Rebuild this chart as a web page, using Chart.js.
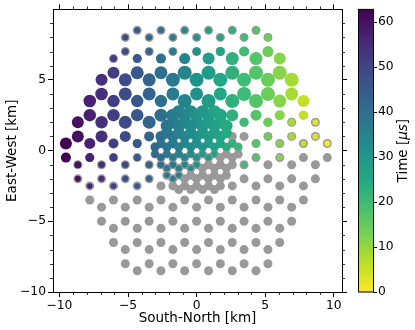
<!DOCTYPE html>
<html><head><meta charset="utf-8">
<script src="https://cdn.jsdelivr.net/npm/chart.js@4.4.1/dist/chart.umd.min.js"></script>
<style>html,body{margin:0;padding:0;background:#fff;}canvas{display:block;}</style>
</head><body>
<canvas id="c" width="415" height="330"></canvas>
<script>
// ---------------- data (km, µs, arbitrary amplitude units) ----------------
const xTicks = [-10, -5, 0, 5, 10];
const yTicks = [-10, -5, 0, 5];
const cbTicks = [0, 10, 20, 30, 40, 50, 60];
const xRange = [-10.47, 10.6];
const yRange = [-10, 9.98];

// all antennas, column by column (1 km array)
const outerColX = [-9.53,-8.66,-7.79,-6.93,-6.06,-5.20,-4.33,-3.46,-2.60,-1.73,-0.87,0.00,0.87,1.73,2.60,3.46,4.33,5.20,6.06,6.93,7.79,8.66,9.53];
const outerColY = [
  [0.5,-0.5],
  [2,1,-1,-2],
  [3.5,2.5,0.5,-0.5,-2.5,-3.5],
  [5,4,2,1,-1,-2,-4,-5],
  [6.5,5.5,3.5,2.5,0.5,-0.5,-2.5,-3.5,-5.5,-6.5],
  [8,7,5,4,2,1,-1,-2,-4,-5,-7,-8],
  [8.5,6.5,5.5,3.5,2.5,0.5,-0.5,-2.5,-3.5,-5.5,-6.5,-8.5],
  [8,7,5,4,2,1,-1,-2,-4,-5,-7,-8],
  [8.5,6.5,5.5,3.5,2.5,0.5,-0.5,-2.5,-3.5,-5.5,-6.5,-8.5],
  [8,7,5,4,2,1,-1,-2,-4,-5,-7,-8],
  [8.5,6.5,5.5,3.5,2.5,0.5,-0.5,-2.5,-3.5,-5.5,-6.5,-8.5],
  [8,7,5,4,2,1,-1,-2,-4,-5,-7,-8],
  [8.5,6.5,5.5,3.5,2.5,0.5,-0.5,-2.5,-3.5,-5.5,-6.5,-8.5],
  [8,7,5,4,2,1,-1,-2,-4,-5,-7,-8],
  [8.5,6.5,5.5,3.5,2.5,0.5,-0.5,-2.5,-3.5,-5.5,-6.5,-8.5],
  [8,7,5,4,2,1,-1,-2,-4,-5,-7,-8],
  [8.5,6.5,5.5,3.5,2.5,0.5,-0.5,-2.5,-3.5,-5.5,-6.5,-8.5],
  [8,7,5,4,2,1,-1,-2,-4,-5,-7,-8],
  [6.5,5.5,3.5,2.5,0.5,-0.5,-2.5,-3.5,-5.5,-6.5],
  [5,4,2,1,-1,-2,-4,-5],
  [3.5,2.5,0.5,-0.5,-2.5,-3.5],
  [2,1,-1,-2],
  [0.5,-0.5]
];
// dense infill antennas (0.5 km), column by column
const infillColX = [-3.03,-2.60,-2.17,-1.73,-1.30,-0.87,-0.43,0.00,0.43,0.87,1.30,1.73,2.17,2.60,3.03];
const infillColY = [
  [0.25,-0.25],
  [1,-1],
  [1.75,1.25,0.25,-0.25,-1.25,-1.75],
  [2.5,0.5,-0.5,-2.5],
  [2.75,1.75,1.25,0.25,-0.25,-1.25,-1.75,-2.75],
  [2,1,-1,-2],
  [2.75,1.75,1.25,0.25,-0.25,-1.25,-1.75,-2.75],
  [2.5,0.5,-0.5,-2.5],
  [2.75,1.75,1.25,0.25,-0.25,-1.25,-1.75,-2.75],
  [2,1,-1,-2],
  [2.75,1.75,1.25,0.25,-0.25,-1.25,-1.75,-2.75],
  [2.5,0.5,-0.5,-2.5],
  [1.75,1.25,0.25,-0.25,-1.25,-1.75],
  [1,-1],
  [0.25,-0.25]
];

// triggered antennas: column x, per-column arrival time, per-antenna y and amplitude
const trigColX = [-9.53,-8.66,-7.79,-6.93,-6.06,-5.20,-4.33,-3.46,-2.60,-1.73,-0.87,0.00,0.87,1.73,2.60,3.46,4.33,5.20,6.06,6.93,7.79,8.66,9.53,
                  -3.03,-2.60,-2.17,-1.73,-1.30,-0.87,-0.43,0.00,0.43,0.87,1.30,1.73,2.17,3.03];
const trigColTime = [62.8,60.0,57.1,54.3,51.4,48.5,45.7,42.8,40.0,37.1,34.3,31.4,28.5,25.7,22.8,20.0,17.1,14.3,11.4,8.5,5.7,2.8,0.0,
                     41.4,40.0,38.5,37.1,35.7,34.3,32.8,31.4,30.0,28.5,27.1,25.7,24.3,21.4];
const trigColY = [
  [0.5,-0.5],
  [2,1,-1,-2],
  [3.5,2.5,0.5,-0.5,-2.5],
  [5,4,2,1,-1,-2],
  [6.5,5.5,3.5,2.5,0.5,-0.5,-2.5],
  [8,7,5,4,2,1,-1,-2],
  [8.5,6.5,5.5,3.5,2.5,0.5,-0.5,-2.5],
  [8,7,5,4,2,1,-1,-2],
  [8.5,6.5,5.5,3.5,2.5,0.5,-0.5],
  [8,7,5,4,2,1,-1,-2],
  [8.5,6.5,5.5,3.5,2.5,0.5,-0.5],
  [8,7,5,4,2,1,-1],
  [8.5,6.5,5.5,3.5,2.5,0.5,-0.5],
  [8,7,5,4,2,1],
  [8.5,6.5,5.5,3.5,2.5,0.5],
  [8,7,5,4,2,-1],
  [8.5,6.5,5.5,3.5,2.5,0.5,-0.5],
  [8,7,5,4,2,1],
  [6.5,5.5,3.5,2.5,0.5,-0.5],
  [5,4,2,1],
  [3.5,2.5,0.5],
  [2,1],
  [0.5],
  [0.25,-0.25],
  [1,-1],
  [1.75,1.25,0.25,-0.25,-1.25,-1.75],
  [2.5,0.5,-0.5],
  [2.75,1.75,1.25,0.25,-0.25,-1.25,-1.75],
  [2,1,-1],
  [2.75,1.75,1.25,0.25,-0.25,-1.25],
  [2.5,0.5,-0.5],
  [2.75,1.75,1.25,0.25,-0.25],
  [2,1],
  [2.75,1.75,1.25,0.25,-0.25],
  [2.5,0.5],
  [1.75,1.25,0.25],
  [0.25]
];
const trigColAmp = [
  [84,70],
  [84,84,49,42],
  [88,87,77,63,39],
  [84,88,87,84,46,42],
  [49,84,87,87,70,56,39],
  [42,46,91,91,91,77,46,42],
  [42,63,91,87,87,63,49,39],
  [42,49,91,91,91,70,46,42],
  [42,70,91,87,91,63,49],
  [42,49,98,91,88,77,45,39],
  [42,77,98,98,91,63,49],
  [45,56,98,91,88,77,42],
  [42,84,98,98,91,63,45],
  [45,63,98,91,88,77],
  [45,91,98,98,84,56],
  [46,70,98,98,63,42],
  [46,91,98,98,77,53,42],
  [49,77,98,98,63,49],
  [84,98,91,70,46,42],
  [98,91,49,46],
  [84,63,42],
  [42,42],
  [42],
  [63,53],
  [77,45],
  [87,81,63,53,42,39],
  [91,70,49],
  [91,87,81,63,53,42,39],
  [88,77,42],
  [91,87,81,63,49,39],
  [91,70,46],
  [91,87,81,60,46],
  [88,77],
  [91,87,81,60,42],
  [91,63],
  [87,77,56],
  [53]
];

// ---------------- helpers ----------------
const VIRIDIS = ['#440154','#482475','#414487','#355f8d','#2a788e','#21918c','#22a884','#44bf70','#7ad151','#bddf26','#fde725'];
function hex2rgb(h){return [parseInt(h.slice(1,3),16),parseInt(h.slice(3,5),16),parseInt(h.slice(5,7),16)];}
function viridis(f){
  f = Math.max(0, Math.min(1, f));
  const p = f * 10, i = Math.min(9, Math.floor(p)), u = p - i;
  const a = hex2rgb(VIRIDIS[i]), b = hex2rgb(VIRIDIS[i+1]);
  return 'rgb(' + a.map((v,k)=>Math.round(v + (b[k]-v)*u)).join(',') + ')';
}
const fmt = v => v < 0 ? '\u2212' + Math.abs(v) : String(v);
const ampToRadius = a => a / 14;

// build datasets
const allPts = [];
outerColX.forEach((x,c) => outerColY[c].forEach(y => allPts.push({x, y})));
infillColX.forEach((x,c) => infillColY[c].forEach(y => allPts.push({x, y})));

const trigPts = [], trigT = [], trigA = [];
trigColX.forEach((x,c) => trigColY[c].forEach((y,j) => {
  trigPts.push({x, y}); trigT.push(trigColTime[c]); trigA.push(trigColAmp[c][j]);
}));
const tMin = 0, tMax = Math.max(...trigT);
const tColor = t => viridis(1 - (t - tMin) / (tMax - tMin));

const FONT = 'DejaVu Sans';
const TICK_FS = 12.3, LAB_FS = 13.5;

const extras = {
  id: 'extras',
  afterDraw(chart) {
    const {ctx, chartArea: a, scales} = chart;
    const xs = scales.x, ys = scales.y;
    ctx.save();
    // minor ticks (every 1 km), outward on all sides
    ctx.strokeStyle = '#000'; ctx.lineWidth = 0.8;
    ctx.beginPath();
    for (let v = Math.ceil(xs.min); v <= xs.max; v++) {
      if (v % 5 === 0) continue;
      const px = Math.round(xs.getPixelForValue(v)) + 0.5;
      ctx.moveTo(px, a.bottom); ctx.lineTo(px, a.bottom + 3);
      ctx.moveTo(px, a.top); ctx.lineTo(px, a.top - 3);
    }
    for (let v = Math.ceil(ys.min); v <= ys.max; v++) {
      if (v % 5 === 0) continue;
      const py = Math.round(ys.getPixelForValue(v)) + 0.5;
      ctx.moveTo(a.left, py); ctx.lineTo(a.left - 3, py);
      ctx.moveTo(a.right, py); ctx.lineTo(a.right + 3, py);
    }
    ctx.stroke();

    // colorbar
    const x0 = a.right + 16.5, w = 15, x1 = x0 + w, y0 = a.top, y1 = a.bottom;
    const g = ctx.createLinearGradient(0, y1, 0, y0);
    for (let i = 0; i <= 20; i++) g.addColorStop(i/20, viridis(1 - i/20));
    ctx.fillStyle = g;
    ctx.fillRect(x0, y0, w, y1 - y0);
    ctx.lineWidth = 1; ctx.strokeStyle = '#000';
    ctx.strokeRect(x0, y0, w, y1 - y0);
    ctx.fillStyle = '#000';
    ctx.font = TICK_FS + 'px "' + FONT + '"';
    ctx.textAlign = 'left'; ctx.textBaseline = 'middle';
    ctx.beginPath();
    cbTicks.forEach(t => {
      const py = y1 - (t - tMin) / (tMax - tMin) * (y1 - y0);
      ctx.moveTo(x1, Math.round(py) + 0.5); ctx.lineTo(x1 + 3.5, Math.round(py) + 0.5);
      ctx.fillText(fmt(t), x1 + 4.5, py);
    });
    ctx.stroke();

    // colorbar label "Time [μs]"
    ctx.translate(406.5, (y0 + y1) / 2);
    ctx.rotate(-Math.PI / 2);
    ctx.textBaseline = 'alphabetic';
    const fN = LAB_FS + 'px "' + FONT + '"', fI = 'italic ' + LAB_FS + 'px "' + FONT + '"';
    const parts = [['Time [', fN], ['\u03bcs', fI], [']', fN]];
    let tw = 0;
    parts.forEach(p => { ctx.font = p[1]; tw += ctx.measureText(p[0]).width; });
    let cx = -tw / 2;
    parts.forEach(p => { ctx.font = p[1]; ctx.fillText(p[0], cx, 0); cx += ctx.measureText(p[0]).width; });
    ctx.restore();
  }
};

Chart.defaults.font.family = FONT;
const gridOpts = { display: true, drawOnChartArea: false, drawTicks: true, tickLength: 5, tickColor: '#000', tickWidth: 1 };
const borderOpts = { display: true, color: '#000', width: 1 };

new Chart(document.getElementById('c'), {
  type: 'scatter',
  data: {
    datasets: [
      {
        label: 'triggered',
        data: trigPts,
        order: 0,
        pointRadius: trigA.map(ampToRadius),
        pointBackgroundColor: trigT.map(tColor),
        pointBorderWidth: 0,
        pointHoverRadius: trigA.map(ampToRadius)
      },
      {
        label: 'antennas',
        data: allPts,
        order: 1,
        pointRadius: 4.5,
        pointBackgroundColor: '#999999',
        pointBorderWidth: 0,
        pointHoverRadius: 4.5
      }
    ]
  },
  options: {
    responsive: false, animation: false, devicePixelRatio: 1,
    events: [],
    layout: { padding: 0 },
    plugins: { legend: { display: false }, tooltip: { enabled: false } },
    scales: {
      x: {
        type: 'linear', position: 'bottom', min: xRange[0], max: xRange[1],
        afterBuildTicks: s => { s.ticks = xTicks.map(v => ({ value: v })); },
        afterFit: s => { s.height = 38; },
        grid: gridOpts, border: borderOpts,
        ticks: { color: '#000', font: { size: TICK_FS }, padding: 1, maxRotation: 0, autoSkip: false, callback: v => fmt(v) },
        title: { display: true, text: 'South-North [km]', color: '#000', font: { size: LAB_FS }, padding: { top: 0, bottom: 3 } }
      },
      y: {
        type: 'linear', position: 'left', min: yRange[0], max: yRange[1],
        afterBuildTicks: s => { s.ticks = yTicks.map(v => ({ value: v })); },
        afterFit: s => { s.width = 53; },
        grid: gridOpts, border: borderOpts,
        ticks: { color: '#000', font: { size: TICK_FS }, padding: 2, autoSkip: false, callback: v => fmt(v) },
        title: { display: true, text: 'East-West [km]', color: '#000', font: { size: LAB_FS }, padding: { top: 4, bottom: 0 } }
      },
      x2: {
        type: 'linear', position: 'top', min: xRange[0], max: xRange[1],
        afterBuildTicks: s => { s.ticks = xTicks.map(v => ({ value: v })); },
        afterFit: s => { s.height = 7; },
        grid: gridOpts, border: borderOpts,
        ticks: { display: false }
      },
      y2: {
        type: 'linear', position: 'right', min: yRange[0], max: yRange[1],
        afterBuildTicks: s => { s.ticks = yTicks.map(v => ({ value: v })); },
        afterFit: s => { s.width = 73; },
        grid: gridOpts, border: borderOpts,
        ticks: { display: false }
      }
    }
  },
  plugins: [extras]
});
</script>
</body></html>
